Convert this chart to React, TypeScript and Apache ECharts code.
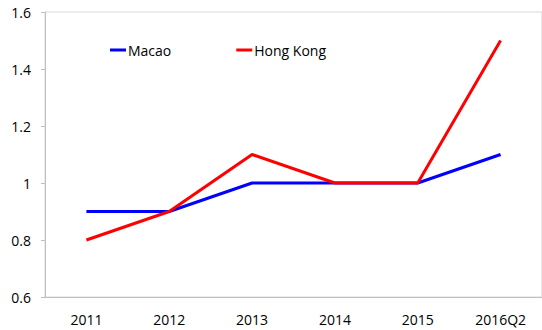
import React, { useEffect, useRef } from "react";
import * as echarts from "echarts";

const categories = ["2011", "2012", "2013", "2014", "2015", "2016Q2"];
const macao = [0.9, 0.9, 1.0, 1.0, 1.0, 1.1];
const hongKong = [0.8, 0.9, 1.1, 1.0, 1.0, 1.5];

export default function App() {
  const ref = useRef<HTMLDivElement>(null);
  useEffect(() => {
    if (!ref.current) return;
    const chart = echarts.init(ref.current, null, { renderer: "svg" });
    const font = "'Open Sans', 'Noto Sans', sans-serif";
    chart.setOption({
      animation: false,
      textStyle: { fontFamily: font },
      grid: {
        left: 45,
        top: 12,
        width: 500,
        height: 285,
        show: true,
        borderColor: "#d9d9d9",
        borderWidth: 1,
      },
      legend: {
        left: 105,
        top: 38,
        itemWidth: 16,
        itemHeight: 3,
        itemGap: 65,
        icon: "rect",
        textStyle: { fontFamily: font, fontSize: 14, color: "#000", padding: [0, 0, 0, -3] },
        data: ["Macao", "Hong Kong"],
      },
      xAxis: {
        type: "category",
        data: categories,
        boundaryGap: true,
        axisLine: { lineStyle: { color: "#bfbfbf", width: 1 } },
        axisTick: { inside: true, length: 5, lineStyle: { color: "#bfbfbf" } },
        axisLabel: { color: "#000", fontSize: 14, margin: 15, fontFamily: font },
        splitLine: { show: false },
      },
      yAxis: {
        type: "value",
        min: 0.6,
        max: 1.6,
        interval: 0.2,
        axisLine: { show: true, lineStyle: { color: "#bfbfbf", width: 1 } },
        axisTick: { show: true, length: 4, lineStyle: { color: "#bfbfbf" } },
        axisLabel: { color: "#000", fontSize: 14, margin: 14, fontFamily: font },
        splitLine: { show: false },
      },
      series: [
        {
          name: "Macao",
          type: "line",
          data: macao,
          symbol: "none",
          lineStyle: { color: "#0000ff", width: 3 },
          itemStyle: { color: "#0000ff" },
        },
        {
          name: "Hong Kong",
          type: "line",
          data: hongKong,
          symbol: "none",
          lineStyle: { color: "#ff0000", width: 3 },
          itemStyle: { color: "#ff0000" },
        },
      ],
    });
    return () => chart.dispose();
  }, []);
  return <div ref={ref} style={{ width: 542, height: 330, position: "absolute", left: 0, top: 0 }} />;
}
